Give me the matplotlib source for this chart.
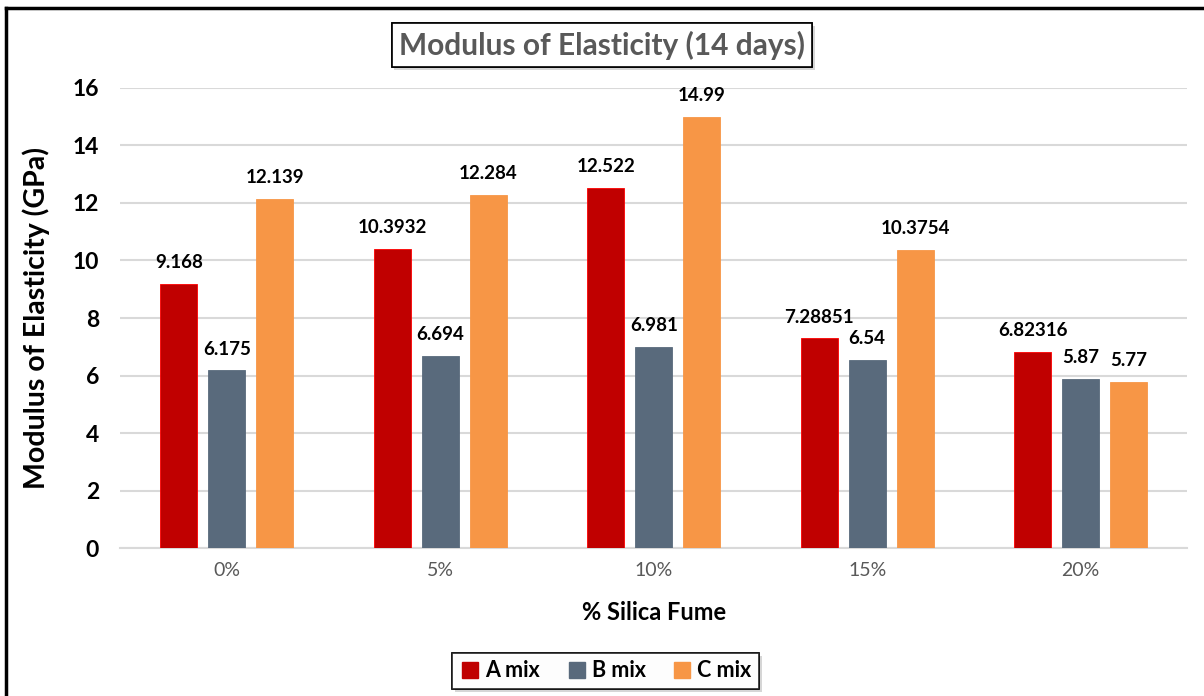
import numpy as np
import matplotlib.pyplot as plt
from matplotlib.lines import Line2D
import matplotlib.patheffects as pe

plt.rcParams['font.family'] = ['Lato', 'DejaVu Sans']

categories = ['0%', '5%', '10%', '15%', '20%']
series_names = ['A mix', 'B mix', 'C mix']
a_mix = [9.168, 10.3932, 12.522, 7.28851, 6.82316]
b_mix = [6.175, 6.694, 6.981, 6.54, 5.87]
c_mix = [12.139, 12.284, 14.99, 10.3754, 5.77]
colors = ['#C00000', '#596A7C', '#F79646']

fig = plt.figure(figsize=(12.04, 6.96), dpi=100)
ax = fig.add_axes([0.0997, 0.2126, 0.8865, 0.661])

x = np.arange(len(categories))
width = 0.173
offset = 0.225
for i, (vals, name, col) in enumerate(zip([a_mix, b_mix, c_mix], series_names, colors)):
    pos = x + (i - 1) * offset
    edge = '#FF0000' if i == 0 else col
    ax.bar(pos, vals, width=width, color=col, label=name, zorder=3,
           edgecolor=edge, linewidth=0.6)
    for xp, v in zip(pos, vals):
        ax.text(xp, v + 0.45, f'{v:g}', ha='center', va='bottom', fontsize=13.5,
                fontweight='bold', color='black', clip_on=False)

ax.set_xlim(-0.5, len(categories) - 0.5)
ax.set_ylim(0, 16)
ax.set_yticks(np.arange(0, 17, 2))
ax.set_xticks(x)
ax.set_xticklabels(categories, fontsize=14, color='#595959')
ax.tick_params(axis='y', labelsize=16.5, length=0, pad=15)
ax.tick_params(axis='x', length=0, pad=10)
for lab in ax.get_yticklabels():
    lab.set_fontweight('bold')
ax.grid(axis='y', color='#D9D9D9', linewidth=1.5, zorder=0)
for s in ['top', 'right', 'left']:
    ax.spines[s].set_visible(False)
ax.spines['bottom'].set_color('#D9D9D9')
ax.spines['bottom'].set_linewidth(1.5)

ax.set_xlabel('% Silica Fume', fontsize=17, fontweight='bold', labelpad=16)
ax.set_ylabel('Modulus of Elasticity (GPa)', fontsize=20.5, fontweight='bold', labelpad=16)

shadow = [pe.withSimplePatchShadow(offset=(2, -2), shadow_rgbFace='#BBBBBB', alpha=0.6),
          pe.Normal()]

title = fig.text(0.5, 0.935, 'Modulus of Elasticity (14 days)', ha='center', va='center',
                 fontsize=21.5, fontweight='bold', color='#595959',
                 bbox=dict(boxstyle='square,pad=0.25', facecolor='white',
                           edgecolor='black', linewidth=1.2))
title.get_bbox_patch().set_path_effects(shadow)

handles = [Line2D([], [], marker='s', linestyle='none', markersize=11,
                  markerfacecolor=c, markeredgecolor=c) for c in colors]
leg = fig.legend(handles, series_names, loc='center', bbox_to_anchor=(0.503, 0.036),
                 ncol=3, frameon=True, fancybox=False, edgecolor='black',
                 prop={'size': 15.5, 'weight': 'bold'}, handletextpad=0.2,
                 columnspacing=1.2, borderpad=0.35, handlelength=1.0)
leg.get_frame().set_linewidth(1.2)
leg.get_frame().set_path_effects(shadow)

# outer frame: only top and left edges are visible
fig.add_artist(Line2D([6 / 1204, 6 / 1204], [0, 1 - 8 / 696], color='black', linewidth=2.5))
fig.add_artist(Line2D([6 / 1204, 1], [1 - 8 / 696, 1 - 8 / 696], color='black', linewidth=2.5))

fig.savefig('out.png', dpi=100)
